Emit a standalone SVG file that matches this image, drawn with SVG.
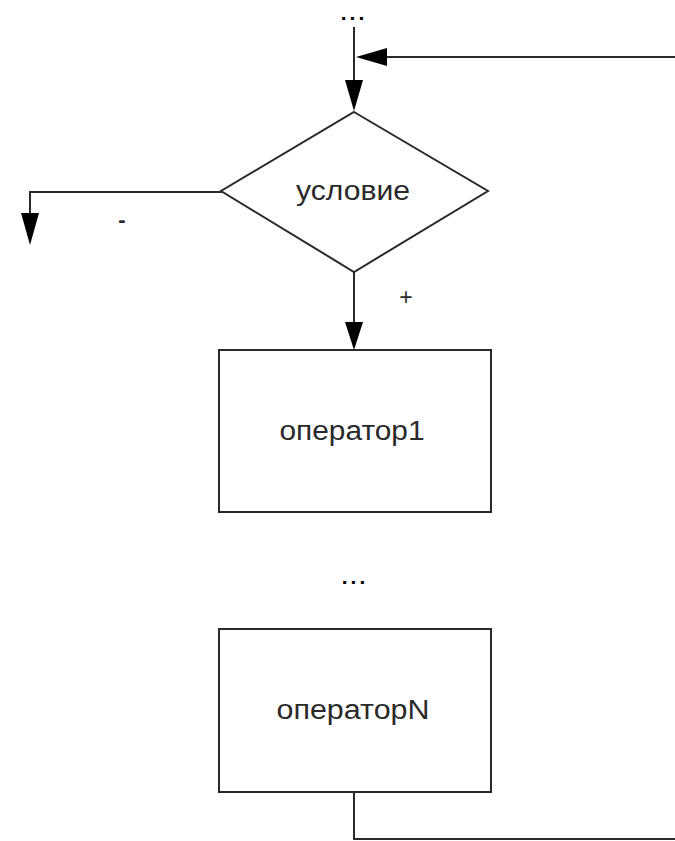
<svg xmlns="http://www.w3.org/2000/svg" width="675" height="841" viewBox="0 0 675 841">
<style>
.ln{fill:none;stroke:#2a2a2a;stroke-width:2}
.sh{fill:#fff;stroke:#2a2a2a;stroke-width:2}
.t{font-family:"Liberation Sans",Arial,sans-serif;fill:#2a2a2a;text-anchor:middle}
.dots{font-family:"Liberation Sans",Arial,sans-serif;fill:#000;text-anchor:middle;font-weight:bold;font-size:21px;letter-spacing:3px}
.ah{fill:#000}
</style>
<rect width="675" height="841" fill="#fff"/>
<g id="connectors">
  <path class="ln" d="M354,27 V84"/>
  <polygon class="ah" points="345,80 363,80 354,111"/>
  <path class="ln" d="M354,792 V839 H676 V57 H384"/>
  <polygon class="ah" points="387,48 387,66 356,57"/>
  <path class="ln" d="M222,192 H30 V216"/>
  <polygon class="ah" points="21,213 39,213 30,245"/>
  <path class="ln" d="M354,272 V326"/>
  <polygon class="ah" points="345,322 363,322 354,350"/>
  <text class="t" x="406" y="305" font-size="23">+</text>
  <text class="t" x="122" y="227" font-size="22" font-weight="bold">-</text>
</g>
<g id="top-dots"><text class="dots" x="354" y="20">...</text></g>
<g id="condition">
  <polygon class="sh" points="354,112 488,191 354,272 221,191"/>
  <text class="t" x="353" y="200" font-size="27" textLength="114" lengthAdjust="spacingAndGlyphs">условие</text>
</g>
<g id="op1">
  <rect class="sh" x="219" y="350" width="272" height="162"/>
  <text class="t" x="352" y="440" font-size="27" textLength="145" lengthAdjust="spacingAndGlyphs">оператор1</text>
</g>
<g id="mid-dots"><text class="dots" x="355" y="584">...</text></g>
<g id="opN">
  <rect class="sh" x="219" y="629" width="272" height="163"/>
  <text class="t" x="353" y="719" font-size="27" textLength="153" lengthAdjust="spacingAndGlyphs">операторN</text>
</g>
</svg>
